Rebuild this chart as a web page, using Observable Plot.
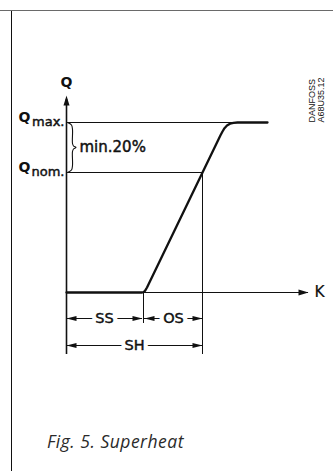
<!DOCTYPE html>
<html><head><meta charset="utf-8">
<script src="https://cdn.jsdelivr.net/npm/d3@7"></script>
<script src="https://cdn.jsdelivr.net/npm/@observablehq/plot@0.6"></script>
<style>
html,body{margin:0;padding:0;background:#fff;width:333px;height:471px;overflow:hidden;position:relative}
#topline{position:absolute;left:0;top:10px;width:333px;height:0;border-top:1.5px solid #6a6a6a;z-index:2}
#leftline{position:absolute;left:11px;top:11px;height:460px;width:0;border-left:1.6px solid #111;z-index:2}
#chart{position:absolute;left:0;top:0;z-index:1}
#chart figure{margin:0}
#chart figcaption{font:italic 17.5px "Open Sans","Noto Sans",sans-serif;letter-spacing:0.5px;color:#2a2a2a;padding:11px 0 0 47px;margin:0}
</style></head>
<body>
<div id="topline"></div><div id="leftline"></div>
<div id="chart"></div>
<script>
// ---- diagram data (K = superheat units, Q = capacity units) ----
const qLevelNames = ["max.", "nom."];
const qLevelValues = [170, 120];
const qLevelReach = [171, 136];          // K where the level meets the curve
const curveK = [0, 75, 77, 78.5, 80.5, 154, 156, 158, 160.5, 163.5, 167, 171, 201];
const curveQ = [0, 0, 0.4, 1.6, 5, 157.2, 161, 164.3, 167, 168.8, 169.7, 170, 170];
const dimLabels = ["SS", "OS", "SH"];
const dimFrom = [0, 78, 0];
const dimTo = [76, 136, 136];
const dimRow = [-26, -26, -53];
const extK = [77, 136];
const extLow = [-31, -62];
const extHigh = [0, 120];
const kAxisEnd = 242;
const qAxisEnd = 197;
const qAxisLow = -62;
const braceK = [1, 5, 6, 6, 7, 9.5, 7, 6, 6, 5, 1];
const braceQ = [170, 167.5, 163, 149, 146.5, 145, 143.5, 141, 127, 122.5, 120];
const noteText = "min.20%";
const stampLines = "DANFOSS\nA68U35.12";
const captionText = "Fig. 5. Superheat";

const dims = dimLabels.map((label, i) => ({label, from: dimFrom[i], to: dimTo[i], row: dimRow[i], mid: (dimFrom[i] + dimTo[i]) / 2}));
const levels = qLevelNames.map((name, i) => ({name, q: qLevelValues[i], reach: qLevelReach[i]}));
const curve = curveK.map((k, i) => ({k, q: curveQ[i]}));
const brace = braceK.map((k, i) => ({k, q: braceQ[i]}));
const exts = extK.map((k, i) => ({k, lo: extLow[i], hi: extHigh[i]}));

// filled arrowhead symbol, tip at the anchor point
const head = (ux, uy, L, W) => ({draw(ctx) {
  const px = -uy, py = ux;
  ctx.moveTo(0, 0);
  ctx.lineTo(-ux * L + px * W, -uy * L + py * W);
  ctx.lineTo(-ux * L - px * W, -uy * L - py * W);
  ctx.closePath();
}});

const ink = "#111";
const font = "'DejaVu Sans', sans-serif";
const heavy = {fill: ink, stroke: ink, strokeWidth: 0.45, fontFamily: font};

const plot = Plot.plot({
  width: 333, height: 418,
  margin: 0,
  x: {domain: [-66, 267], axis: null},
  y: {domain: [-126, 292], axis: null},
  style: {background: "transparent", fontFamily: font, overflow: "visible"},
  caption: captionText,
  marks: [
    // level lines
    Plot.ruleY(levels, {y: "q", x1: 0, x2: "reach", stroke: ink, strokeWidth: 1}),
    // extension lines
    Plot.ruleX(exts, {x: "k", y1: "lo", y2: "hi", stroke: ink, strokeWidth: 1}),
    // K axis
    Plot.ruleY([0], {x1: 0, x2: kAxisEnd, stroke: ink, strokeWidth: 1.2}),
    // Q axis
    Plot.ruleX([0], {y1: qAxisLow, y2: qAxisEnd - 4, stroke: ink, strokeWidth: 1.6}),
    // capacity curve
    Plot.line(curve, {x: "k", y: "q", stroke: ink, strokeWidth: 2.3, curve: "linear", strokeLinejoin: "round"}),
    // brace
    Plot.line(brace, {x: "k", y: "q", stroke: ink, strokeWidth: 1.1, curve: "catmull-rom"}),
    // dimension lines
    Plot.ruleY(dims, {y: "row", x1: "from", x2: "to", stroke: ink, strokeWidth: 1}),
    Plot.text(dims, {x: "mid", y: "row", text: "label", fontSize: 14.5, fill: "white", stroke: "white", strokeWidth: 9, fontFamily: font}),
    Plot.text(dims, {x: "mid", y: "row", text: "label", fontSize: 14.5, ...heavy}),
    // arrowheads
    Plot.dot(dims, {x: "from", y: "row", symbol: head(-1, 0, 10, 2.6), fill: ink, stroke: null}),
    Plot.dot(dims, {x: "to", y: "row", symbol: head(1, 0, 10, 2.6), fill: ink, stroke: null}),
    Plot.dot([kAxisEnd], {x: d => d, y: 0, symbol: head(1, 0, 10, 3), fill: ink, stroke: null}),
    Plot.dot([qAxisEnd], {x: 0, y: d => d, symbol: head(0, -1, 10, 3), fill: ink, stroke: null}),
    // axis labels
    Plot.text(["K"], {x: kAxisEnd + 11, y: 0, text: d => d, fontSize: 15.5, fill: ink, stroke: ink, strokeWidth: 0.2, fontFamily: font}),
    Plot.text(["Q"], {x: 0, y: qAxisEnd + 9, lineAnchor: "bottom", text: d => d, fontSize: 14, fontWeight: "bold", fill: ink, fontFamily: font}),
    // level labels: Q + subscript
    Plot.text(levels, {x: -48, y: d => d.q + 0.5, text: () => "Q", lineAnchor: "bottom", textAnchor: "start", fontSize: 14, fontWeight: "bold", fill: ink, fontFamily: font}),
    Plot.text(levels, {x: -2, y: d => d.q - 3, text: "name", lineAnchor: "bottom", textAnchor: "end", fontSize: 13, ...heavy}),
    // note
    Plot.text([noteText], {x: 13, y: 145, text: d => d, textAnchor: "start", fontSize: 15, ...heavy}),
    // drawing stamp
    Plot.text([stampLines], {x: 250, y: 170, text: d => d, rotate: -90, textAnchor: "start", lineAnchor: "middle", lineHeight: 1, fontSize: 9, fill: ink, fontFamily: "'Liberation Sans', Arial, sans-serif"})
  ]
});
document.getElementById("chart").appendChild(plot);
</script>
</body></html>
